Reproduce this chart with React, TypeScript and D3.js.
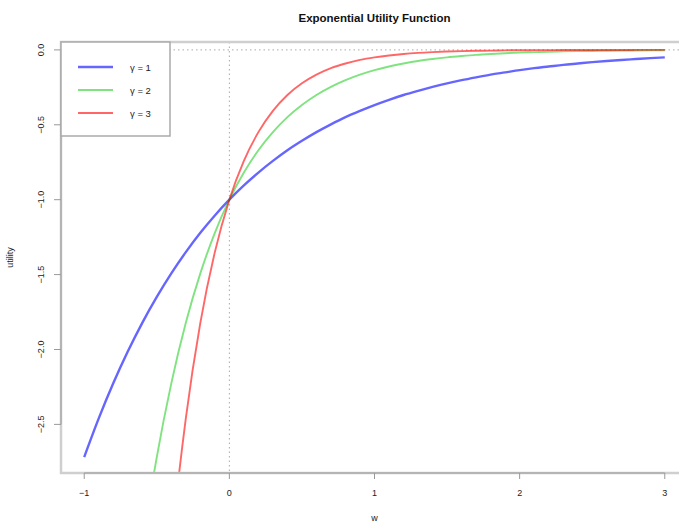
import React from 'react';
import * as d3 from 'd3';

// values
const wValues = [
  -1.0, -0.9, -0.8, -0.7, -0.6, -0.5, -0.4, -0.3, -0.2, -0.1,
  0.0, 0.1, 0.2, 0.3, 0.4, 0.5, 0.6, 0.7, 0.8, 0.9,
  1.0, 1.1, 1.2, 1.3, 1.4, 1.5, 1.6, 1.7, 1.8, 1.9,
  2.0, 2.1, 2.2, 2.3, 2.4, 2.5, 2.6, 2.7, 2.8, 2.9, 3.0,
];
const utilityGamma1 = [
  -2.718, -2.46, -2.226, -2.014, -1.822, -1.649, -1.492, -1.35, -1.221, -1.105,
  -1.0, -0.905, -0.819, -0.741, -0.67, -0.607, -0.549, -0.497, -0.449, -0.407,
  -0.368, -0.333, -0.301, -0.273, -0.247, -0.223, -0.202, -0.183, -0.165, -0.15,
  -0.135, -0.122, -0.111, -0.1, -0.091, -0.082, -0.074, -0.067, -0.061, -0.055, -0.05,
];
const utilityGamma2 = [
  -7.389, -6.05, -4.953, -4.055, -3.32, -2.718, -2.226, -1.822, -1.492, -1.221,
  -1.0, -0.819, -0.67, -0.549, -0.449, -0.368, -0.301, -0.247, -0.202, -0.165,
  -0.135, -0.111, -0.091, -0.074, -0.061, -0.05, -0.041, -0.033, -0.027, -0.022,
  -0.018, -0.015, -0.012, -0.01, -0.008, -0.007, -0.006, -0.005, -0.004, -0.003, -0.002,
];
const utilityGamma3 = [
  -20.09, -14.88, -11.02, -8.166, -6.05, -4.482, -3.32, -2.46, -1.822, -1.35,
  -1.0, -0.741, -0.549, -0.407, -0.301, -0.223, -0.165, -0.122, -0.091, -0.067,
  -0.05, -0.037, -0.027, -0.02, -0.015, -0.011, -0.008, -0.006, -0.005, -0.003,
  -0.002, -0.0018, -0.0014, -0.001, -0.0007, -0.0006, -0.0004, -0.0003, -0.0002, -0.0002, -0.0001,
];
const seriesLabels = ['γ = 1', 'γ = 2', 'γ = 3'];
const xTicks = [-1, 0, 1, 2, 3];
const yTicks = [0, -0.5, -1, -1.5, -2, -2.5];

const width = 679;
const height = 525;
// plot region (R style, extends past the right edge)
const plot = { left: 61, right: 688, top: 42, bottom: 473 };

export default function App() {
  const xScale = d3.scaleLinear().domain([-1.16, 3.16]).range([plot.left, plot.right]);
  const yScale = d3.scaleLinear().domain([-2.8245, 0.0527]).range([plot.bottom, plot.top]);

  const series = [
    { values: utilityGamma1, color: 'rgba(0,0,255,0.6)', lw: 2.4 },
    { values: utilityGamma2, color: 'rgba(0,200,0,0.5)', lw: 1.9 },
    { values: utilityGamma3, color: 'rgba(255,0,0,0.6)', lw: 1.9 },
  ];

  const line = d3
    .line<number>()
    .x((_, i) => xScale(wValues[i]))
    .y(d => yScale(d))
    .curve(d3.curveMonotoneX);

  const fmtY = (v: number) => d3.format('.1f')(v).replace('-', '\u2212');
  const fmtX = (v: number) => String(v).replace('-', '\u2212');

  const font = '"Liberation Sans", Arial, Helvetica, sans-serif';
  const legendRows = [67, 90, 113];

  return (
    <svg
      width={width}
      height={height}
      style={{ position: 'absolute', left: 0, top: 0, background: '#fff' }}
      fontFamily={font}
    >
      <defs>
        <clipPath id="plotClip">
          <rect x={plot.left} y={plot.top} width={plot.right - plot.left} height={plot.bottom - plot.top} />
        </clipPath>
      </defs>

      {/* title */}
      <text x={374.5} y={22} textAnchor="middle" fontSize={11.5} fontWeight="bold" fill="#111">
        Exponential Utility Function
      </text>

      {/* reference lines */}
      <g clipPath="url(#plotClip)" stroke="#aaa" strokeWidth={1} strokeDasharray="1.5,3">
        <line x1={plot.left} x2={plot.right} y1={yScale(0)} y2={yScale(0)} />
        <line x1={xScale(0)} x2={xScale(0)} y1={plot.top} y2={plot.bottom} />
      </g>

      {/* curves */}
      <g clipPath="url(#plotClip)" fill="none">
        {series.map((s, i) => (
          <path key={i} d={line(s.values) || ''} stroke={s.color} strokeWidth={s.lw} />
        ))}
      </g>

      {/* box */}
      <rect
        x={plot.left}
        y={plot.top}
        width={plot.right - plot.left}
        height={plot.bottom - plot.top}
        fill="none"
        stroke="#cfcfcf"
        strokeWidth={2.5}
      />

      {/* y axis */}
      <g stroke="#999" strokeWidth={1}>
        <line x1={plot.left} x2={plot.left} y1={yScale(0)} y2={yScale(-2.5)} />
        {yTicks.map(t => (
          <line key={t} x1={plot.left - 7} x2={plot.left} y1={yScale(t)} y2={yScale(t)} />
        ))}
      </g>
      {yTicks.map(t => (
        <text
          key={t}
          transform={`translate(${44},${yScale(t)}) rotate(-90)`}
          textAnchor="middle"
          fontSize={9}
          fill="#222"
        >
          {fmtY(t)}
        </text>
      ))}

      {/* x axis */}
      <g stroke="#999" strokeWidth={1}>
        <line x1={xScale(-1)} x2={xScale(3)} y1={plot.bottom} y2={plot.bottom} />
        {xTicks.map(t => (
          <line key={t} x1={xScale(t)} x2={xScale(t)} y1={plot.bottom} y2={plot.bottom + 6} />
        ))}
      </g>
      {xTicks.map(t => (
        <text key={t} x={xScale(t)} y={496} textAnchor="middle" fontSize={9} fill="#222">
          {fmtX(t)}
        </text>
      ))}

      {/* axis titles */}
      <text x={374.5} y={521} textAnchor="middle" fontSize={9} fill="#222">w</text>
      <text transform={`translate(13,${(plot.top + plot.bottom) / 2}) rotate(-90)`} textAnchor="middle" fontSize={9} fill="#222">
        utility
      </text>

      {/* legend */}
      <rect x={plot.left} y={plot.top} width={109} height={94} fill="#fff" stroke="#aaa" strokeWidth={1.5} />
      {series.map((s, i) => (
        <g key={i}>
          <line x1={78} x2={113} y1={legendRows[i]} y2={legendRows[i]} stroke={s.color} strokeWidth={s.lw} />
          <text x={130} y={legendRows[i] + 3.5} fontSize={9.5} fill="#222">
            {seriesLabels[i]}
          </text>
        </g>
      ))}
    </svg>
  );
}
